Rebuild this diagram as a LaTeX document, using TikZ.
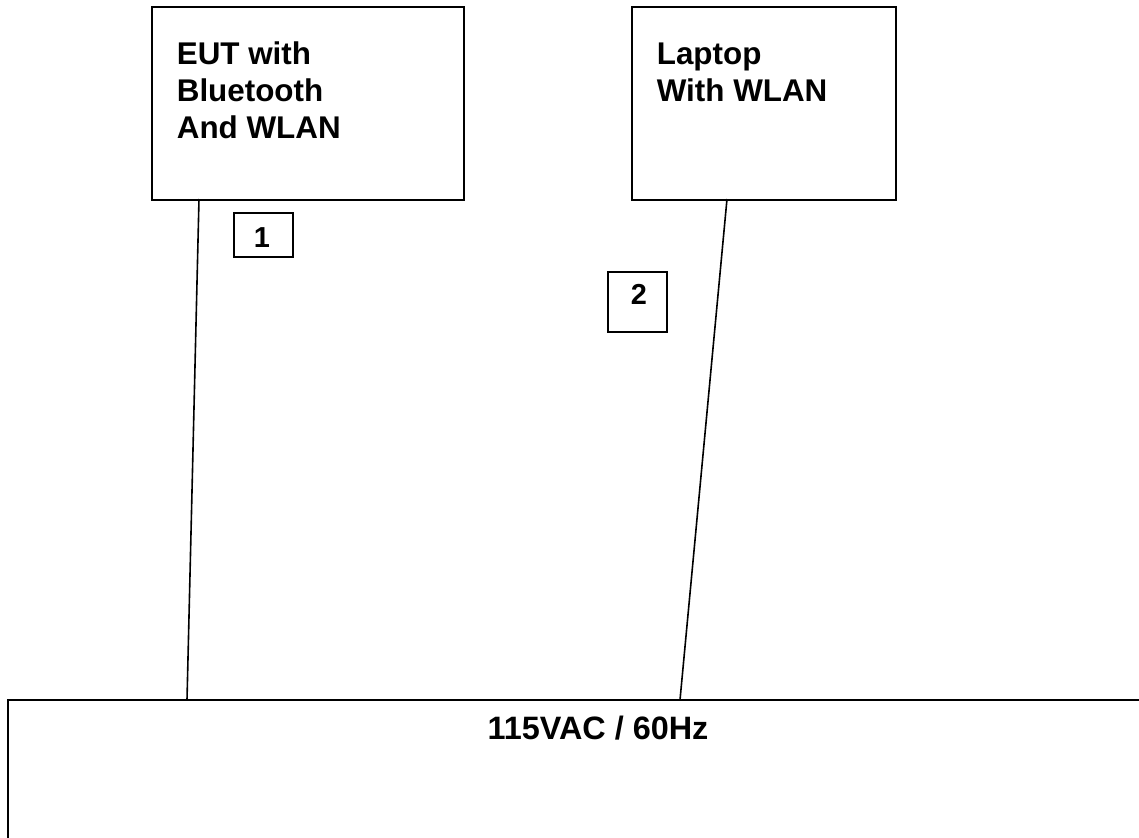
\documentclass[tikz,border=0pt]{standalone}
\usepackage{fontspec}
\setmainfont{Liberation Sans}
\begin{document}
\begin{tikzpicture}[x=1bp,y=-1bp,line width=1.7bp,
  devbox/.style={draw,rectangle,minimum width=#1bp,inner sep=0pt,anchor=north west},
  lbl/.style={font=\fontsize{31.5}{36.7}\selectfont\bfseries,align=left,inner sep=0pt,anchor=base west},
  numbox/.style={draw,rectangle,inner sep=0pt,anchor=north west},
  numtxt/.style={font=\fontsize{29}{34}\selectfont\bfseries,inner sep=0pt,anchor=base},
  wire/.style={draw,line width=1.6bp}]
\useasboundingbox (0,0) rectangle (1139,838);
% device boxes
\node[devbox=312,minimum height=193bp] (eut) at (151,6) {};
\node[devbox=264,minimum height=193bp] (laptop) at (631,6) {};
\node[lbl] (eutlbl) at (176,138) {EUT with\\Bluetooth\\And WLAN};
\node[lbl] (laplbl) at (656,101.5) {Laptop\\With WLAN};
% number boxes
\node[numbox,minimum width=59bp,minimum height=44bp] (n1) at (233,212) {};
\node[numtxt] (n1t) at (262,247) {1};
\node[numbox,minimum width=59bp,minimum height=60bp] (n2) at (607,271) {};
\node[numtxt] (n2t) at (639,304) {2};
% mains
\coordinate (mainsTL) at (8,700);
\coordinate (mainsTR) at (1139,700);
\coordinate (mainsBL) at (8,838);
\draw[line width=2.2bp] (mainsBL) -- (mainsTL) -- (mainsTR);
\node[font=\fontsize{32.5}{38}\selectfont\bfseries,inner sep=0pt,anchor=base] (mains) at (598,739) {115VAC / 60Hz};
% connectors
\coordinate (c1a) at (199,199);
\coordinate (c1b) at (187,700);
\coordinate (c2a) at (727,199);
\coordinate (c2b) at (680,700);
\draw[wire] (c1a) -- (c1b);
\draw[wire] (c2a) -- (c2b);
\end{tikzpicture}
\end{document}
